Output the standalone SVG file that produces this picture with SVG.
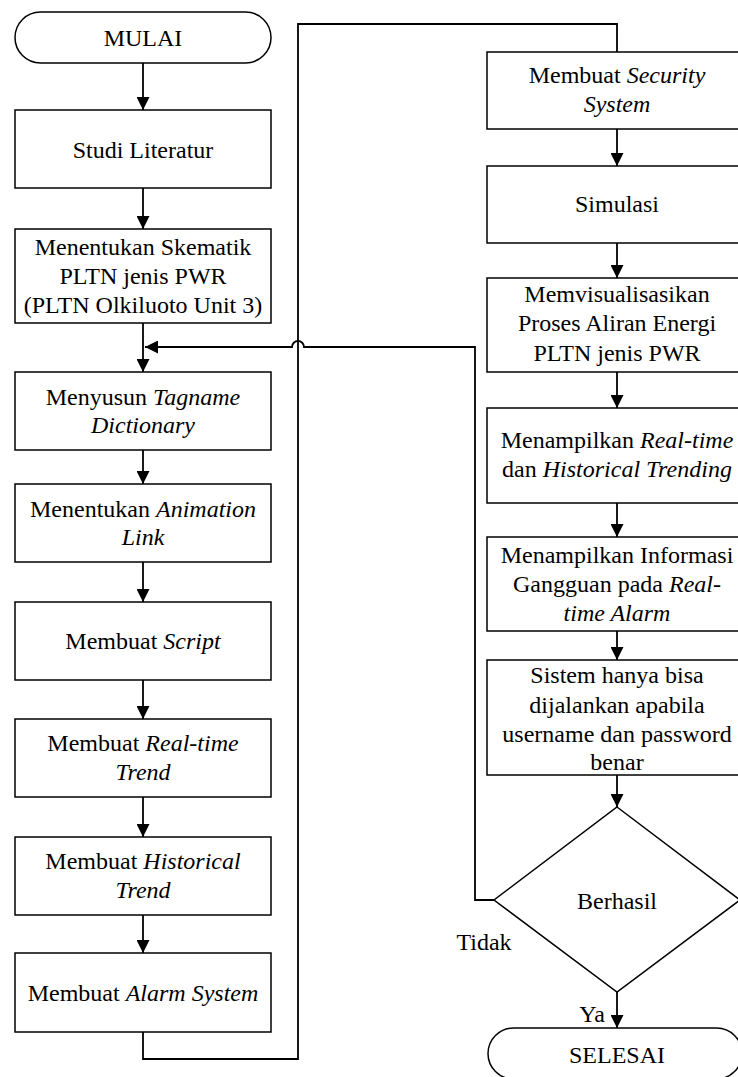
<svg xmlns="http://www.w3.org/2000/svg" width="738" height="1077" viewBox="0 0 738 1077">
<defs>
<marker id="ah" markerUnits="userSpaceOnUse" markerWidth="13" markerHeight="13" refX="13" refY="6.5" orient="auto">
<path d="M0,0 L13,6.5 L0,13 z" fill="#000"/>
</marker>
<style>
.b{fill:#fff;stroke:#000;stroke-width:1.5}
.t{font-family:"Liberation Serif","Times New Roman",serif;font-size:24px;fill:#000;text-anchor:middle}
.i{font-style:italic}
.c{fill:none;stroke:#000;stroke-width:1.8}
.a{marker-end:url(#ah)}
</style>
</defs>
<rect width="738" height="1077" fill="#fff"/>
<g id="connectors">
<path class="c a" d="M143,63 V110"/>
<path class="c a" d="M143,188 V229"/>
<path class="c a" d="M143,323 V372"/>
<path class="c a" d="M494,900 H475 V347 H304 A6,6 0 0 0 292,347 H145"/>
<path class="c a" d="M143,450 V484"/>
<path class="c a" d="M143,562 V602"/>
<path class="c a" d="M143,680 V719"/>
<path class="c a" d="M143,797 V837"/>
<path class="c a" d="M143,915 V953"/>
<path class="c" d="M143,1032 V1059 H298 V24 H617 V52"/>
<path class="c a" d="M617,129 V166"/>
<path class="c a" d="M617,243 V278"/>
<path class="c a" d="M617,372 V408"/>
<path class="c a" d="M617,503 V537"/>
<path class="c a" d="M617,631 V660"/>
<path class="c a" d="M617,775 V807"/>
<path class="c a" d="M617,992 V1028"/>
</g>
<g id="mulai"><rect class="b" x="15" y="12" width="256" height="51" rx="25.5"/><text class="t" x="143" y="46">MULAI</text></g>
<g id="studi"><rect class="b" x="15" y="110" width="256" height="78"/><text class="t" x="143" y="158">Studi Literatur</text></g>
<g id="skematik"><rect class="b" x="15" y="229" width="256" height="94"/><text class="t" x="143" y="255">Menentukan Skematik</text><text class="t" x="143" y="284">PLTN jenis PWR</text><text class="t" x="143" y="313">(PLTN Olkiluoto Unit 3)</text></g>
<g id="tagname"><rect class="b" x="15" y="372" width="256" height="78"/><text class="t" x="143" y="405">Menyusun <tspan class="i">Tagname</tspan></text><text class="t i" x="143" y="433">Dictionary</text></g>
<g id="animation"><rect class="b" x="15" y="484" width="256" height="78"/><text class="t" x="143" y="517">Menentukan <tspan class="i">Animation</tspan></text><text class="t i" x="143" y="545">Link</text></g>
<g id="script"><rect class="b" x="15" y="602" width="256" height="78"/><text class="t" x="143" y="649">Membuat <tspan class="i">Script</tspan></text></g>
<g id="realtime-trend"><rect class="b" x="15" y="719" width="256" height="78"/><text class="t" x="143" y="751">Membuat <tspan class="i">Real-time</tspan></text><text class="t i" x="143" y="780">Trend</text></g>
<g id="historical-trend"><rect class="b" x="15" y="837" width="256" height="78"/><text class="t" x="143" y="869">Membuat <tspan class="i">Historical</tspan></text><text class="t i" x="143" y="898">Trend</text></g>
<g id="alarm"><rect class="b" x="15" y="953" width="256" height="79"/><text class="t" x="143" y="1001">Membuat <tspan class="i">Alarm System</tspan></text></g>
<g id="security"><rect class="b" x="487" y="52" width="262" height="77"/><text class="t" x="617" y="83">Membuat <tspan class="i">Security</tspan></text><text class="t i" x="617" y="112">System</text></g>
<g id="simulasi"><rect class="b" x="487" y="166" width="262" height="77"/><text class="t" x="617" y="212">Simulasi</text></g>
<g id="visualisasi"><rect class="b" x="487" y="278" width="262" height="94"/><text class="t" x="617" y="302">Memvisualisasikan</text><text class="t" x="617" y="331">Proses Aliran Energi</text><text class="t" x="617" y="361">PLTN jenis PWR</text></g>
<g id="trending"><rect class="b" x="487" y="408" width="262" height="95"/><text class="t" x="617" y="448">Menampilkan <tspan class="i">Real-time</tspan></text><text class="t" x="617" y="477">dan <tspan class="i">Historical Trending</tspan></text></g>
<g id="informasi"><rect class="b" x="487" y="537" width="262" height="94"/><text class="t" x="617" y="563">Menampilkan Informasi</text><text class="t" x="617" y="592">Gangguan pada <tspan class="i">Real-</tspan></text><text class="t i" x="617" y="621">time Alarm</text></g>
<g id="sistem"><rect class="b" x="487" y="660" width="262" height="115"/><text class="t" x="617" y="683">Sistem hanya bisa</text><text class="t" x="617" y="713">dijalankan apabila</text><text class="t" x="617" y="742">username dan password</text><text class="t" x="617" y="770">benar</text></g>
<g id="berhasil"><polygon class="b" points="617,807 740,900 617,992 494,900"/><text class="t" x="617" y="909">Berhasil</text></g>
<g id="labels"><text class="t" x="484" y="950">Tidak</text><text class="t" x="592" y="1022">Ya</text></g>
<g id="selesai"><rect class="b" x="488" y="1028" width="254" height="51" rx="25.5"/><text class="t" x="617" y="1063">SELESAI</text></g>
</svg>
